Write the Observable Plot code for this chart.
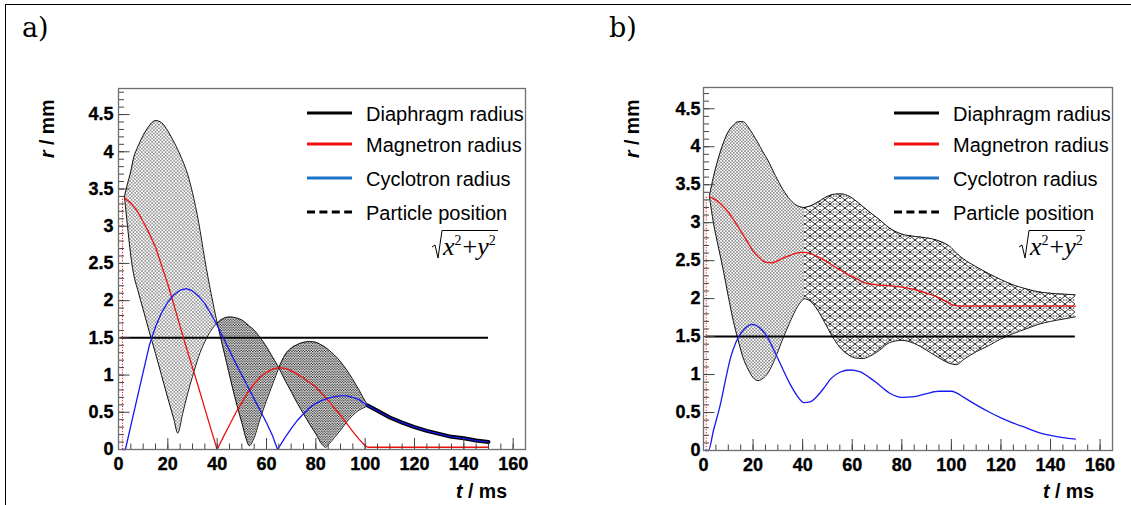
<!DOCTYPE html>
<html>
<head>
<meta charset="utf-8">
<script src="https://cdn.jsdelivr.net/npm/d3@7"></script>
<script src="https://cdn.jsdelivr.net/npm/@observablehq/plot@0.6"></script>
<style>
html,body{margin:0;padding:0;background:#fff;}
#root{position:relative;width:1131px;height:505px;overflow:hidden;background:#fff;}
#root svg{position:absolute;top:0;max-width:none;}
#border{position:absolute;left:5px;top:4px;width:1140px;height:520px;border-top:1.5px solid #000;border-left:1.5px solid #000;pointer-events:none;}
</style>
</head>
<body>
<div id="root"></div>
<script>
// ---------------- data (t in ms, r in mm) ----------------
const panelLabels = ["a)", "b)"];
const legendLabels = ["Diaphragm radius", "Magnetron radius", "Cyclotron radius", "Particle position"];
const xMajorTicks = [0, 20, 40, 60, 80, 100, 120, 140, 160];
const yMajorTicks = [0, 0.5, 1, 1.5, 2, 2.5, 3, 3.5, 4, 4.5];
const diaphragm = {r: 1.5, from: 1, to: 150};

// panel a
const magnetronA = [[2.4,3.38],[5,3.31],[7.5,3.21],[10,3.06],[12.5,2.9],[15,2.72],[17.5,2.47],[20,2.22],[22.5,1.94],[25,1.65],[27.5,1.37],[30,1.1],[32.5,0.83],[35,0.55],[37.5,0.27],[40,0],[42.5,0.17],[45,0.33],[47.5,0.49],[50,0.63],[52.5,0.77],[55,0.88],[57.5,0.97],[60,1.04],[62.5,1.08],[65,1.1],[67.5,1.09],[70,1.06],[72.5,1.01],[75,0.96],[77.5,0.9],[80,0.84],[82.5,0.75],[85,0.66],[87.5,0.56],[90,0.46],[92.5,0.35],[95,0.24],[97.5,0.14],[100,0.05],[101,0.03],[150,0.03]];
const cyclotronA = [[1.5,0],[2.8,0],[5,0.32],[7.5,0.68],[10,1.04],[12.5,1.4],[15,1.65],[17.5,1.84],[20,1.98],[22.5,2.08],[25,2.14],[27.5,2.16],[30,2.13],[32.5,2.06],[35,1.96],[37.5,1.82],[40,1.67],[42.5,1.5],[45,1.33],[47.5,1.16],[50,1.0],[52.5,0.84],[55,0.68],[57.5,0.52],[60,0.36],[62.5,0.18],[64.5,0],[67.5,0.16],[70,0.28],[72.5,0.39],[75,0.48],[77.5,0.56],[80,0.62],[82.5,0.66],[85,0.69],[87.5,0.71],[90,0.72],[92.5,0.72],[95,0.7],[97.5,0.67],[100,0.61],[101,0.59],[105,0.52],[110,0.43],[115,0.36],[120,0.3],[125,0.25],[130,0.21],[135,0.17],[140,0.15],[145,0.12],[150,0.1]];
// particle position envelope: [t, lower, upper]
const particleA1 = [[2.4,3.4,3.4],[3.5,3.05,3.55],[5,2.6,3.74],[6,2.38,3.9],[8,2.12,4.08],[10,1.88,4.22],[12.5,1.58,4.35],[15,1.29,4.42],[17.5,0.99,4.39],[20,0.69,4.28],[22.5,0.4,4.13],[24,0.22,4.03],[26,0.48,3.88],[28,0.75,3.7],[30,0.98,3.45],[32.5,1.25,3.05],[35,1.45,2.55],[37.5,1.6,2.1],[40,1.7,1.7]];
const particleA2 = [[40,1.7,1.7],[42.5,1.35,1.76],[45,1.0,1.78],[47.5,0.66,1.77],[50,0.36,1.74],[52,0.12,1.69],[53,0.05,1.66],[54.5,0.12,1.62],[57.5,0.42,1.5],[60,0.66,1.38],[62.5,0.88,1.24],[65,1.1,1.1]];
const particleA3 = [[65,1.1,1.1],[67.5,0.93,1.27],[70,0.78,1.36],[72.5,0.62,1.41],[75,0.48,1.44],[77.5,0.34,1.45],[80,0.21,1.44],[82.5,0.07,1.4],[84,0.03,1.37],[85.5,0.08,1.33],[87.5,0.16,1.27],[90,0.26,1.18],[92.5,0.37,1.07],[95,0.46,0.94],[97.5,0.53,0.8],[100,0.57,0.65],[101,0.59,0.6]];
const initialA = {t: 1.6, r1: 0, r2: 3.38};

// panel b
const magnetronB = [[2.4,3.34],[5,3.3],[7.5,3.23],[10,3.14],[12.5,3.02],[15,2.89],[17.5,2.76],[20,2.63],[22.5,2.54],[25,2.48],[27.5,2.47],[30,2.5],[32.5,2.54],[35,2.57],[37.5,2.6],[40,2.61],[42.5,2.6],[45,2.57],[47.5,2.53],[50,2.48],[52.5,2.43],[55,2.38],[57.5,2.33],[60,2.29],[62.5,2.25],[65,2.21],[67.5,2.19],[70,2.18],[75,2.17],[80,2.15],[85,2.12],[90,2.07],[95,2.01],[98,1.96],[101,1.91],[104,1.9],[150,1.9]];
const cyclotronB = [[0.8,0],[2,0],[4,0.26],[6.9,0.62],[9,0.95],[10.9,1.22],[13,1.42],[15,1.54],[17.5,1.63],[19.8,1.66],[22.5,1.62],[25.8,1.49],[29,1.28],[32.3,1.05],[35,0.87],[37.8,0.72],[40.5,0.63],[43,0.64],[46,0.72],[48.5,0.82],[51.5,0.95],[55,1.03],[59,1.06],[63,1.04],[67,0.96],[71,0.86],[75.4,0.75],[80,0.7],[85,0.71],[90,0.75],[95,0.78],[100,0.78],[102,0.76],[105,0.7],[110,0.6],[115,0.51],[120,0.43],[125,0.36],[130,0.3],[135,0.24],[140,0.2],[145,0.17],[150,0.15]];
const particleB = [[2.4,3.34,3.36],[4,3.0,3.6],[6,2.68,3.85],[8,2.37,4.05],[10,2.03,4.2],[12,1.71,4.28],[14,1.45,4.33],[16,1.22,4.33],[18,1.07,4.26],[20,0.96,4.16],[22,0.92,4.05],[24,0.95,3.93],[26,1.02,3.82],[29,1.22,3.62],[32,1.47,3.44],[35,1.7,3.3],[38,1.9,3.22],[40.5,2.0,3.2],[43,1.97,3.22],[46,1.85,3.27],[49,1.68,3.33],[52,1.5,3.37],[55,1.36,3.38],[58,1.27,3.36],[61,1.22,3.3],[64,1.21,3.22],[67,1.24,3.14],[71,1.32,3.04],[75,1.42,2.93],[80,1.45,2.85],[85,1.41,2.82],[90,1.32,2.8],[95,1.22,2.76],[100,1.14,2.67],[102,1.13,2.6],[105,1.2,2.52],[110,1.3,2.42],[115,1.38,2.33],[120,1.47,2.25],[125,1.54,2.18],[130,1.6,2.13],[135,1.66,2.09],[140,1.7,2.07],[145,1.73,2.06],[150,1.76,2.05]];
const initialB = {t: 1.1, r1: 0, r2: 3.34};

// ---------------- drawing ----------------
const RED = "#f01010", BLUE = "#1818f0", LEG_BLUE = "#1c74c8";
const FONT = "'Liberation Sans', Arial, Helvetica, sans-serif";
const SERIF = "'Liberation Serif', 'Times New Roman', serif";

function panel(o) {
  const plotW = o.width - o.ml - o.mr, plotH = 505 - o.mt - o.mb;
  const T = d => d[0], R = d => d[1];
  const marks = [];
  for (const seg of o.env) {
    marks.push(Plot.areaY(seg.data, {x: T, y1: d => d[1], y2: d => d[2], fill: `url(#${seg.pat})`, curve: "monotone-x"}));
  }
  for (const seg of o.env) {
    marks.push(Plot.line(seg.data, {x: T, y: d => d[1], stroke: "#000", strokeWidth: 0.9, curve: "monotone-x"}));
    marks.push(Plot.line(seg.data, {x: T, y: d => d[2], stroke: "#000", strokeWidth: 0.9, curve: "monotone-x"}));
  }
  if (o.band != null) {
    marks.push(Plot.line(o.cyc.filter(d => d[0] >= o.band), {x: T, y: R, stroke: "#000", strokeWidth: 4, curve: o.curve}));
  }
  marks.push(Plot.ruleY([diaphragm], {y: d => d.r, x1: d => d.from, x2: d => d.to, stroke: "#000", strokeWidth: 2}));
  marks.push(Plot.ruleX([o.init], {x: d => d.t, y1: d => d.r1, y2: d => d.r2, stroke: RED, strokeWidth: 1, strokeDasharray: "1.2,1.6"}));
  marks.push(Plot.line(o.mag, {x: T, y: R, stroke: RED, strokeWidth: 1.3, curve: o.curve}));
  marks.push(Plot.line(o.cyc, {x: T, y: R, stroke: BLUE, strokeWidth: 1.3, curve: o.curve}));
  // inner ticks (ROOT style)
  const xMinor = d3.range(0, 161, 5);
  const yMinor = d3.range(0, o.ymax - 0.02, 0.1);
  marks.push(Plot.tickX(xMinor, {x: d => d, insetTop: plotH - 5.5, stroke: "#444", strokeWidth: 1}));
  marks.push(Plot.tickX(xMajorTicks, {x: d => d, insetTop: plotH - 11, stroke: "#444", strokeWidth: 1}));
  marks.push(Plot.tickY(yMinor, {y: d => d, insetRight: plotW - 6, stroke: "#444", strokeWidth: 1}));
  marks.push(Plot.tickY(yMajorTicks, {y: d => d, insetRight: plotW - 11.5, stroke: "#444", strokeWidth: 1}));
  // tick labels as bold text marks
  marks.push(Plot.text(xMajorTicks, {x: d => d, y: () => 0, dy: 15, text: d => String(d),
    fontSize: 18, fontWeight: "bold", fontFamily: FONT, fill: "#000", stroke: "#000", strokeWidth: 0.35}));
  marks.push(Plot.text(yMajorTicks, {y: d => d, x: () => 0, dx: -o.ypad, text: d => String(d),
    textAnchor: "end", fontSize: 18, fontWeight: "bold", fontFamily: FONT, fill: "#000", stroke: "#000", strokeWidth: 0.35}));
  marks.push(Plot.frame({stroke: "#6e6e6e", strokeWidth: 1.3}));

  const svg = Plot.plot({
    width: o.width, height: 505,
    marginLeft: o.ml, marginRight: o.mr, marginTop: o.mt, marginBottom: o.mb,
    x: {domain: [0, 165], label: null, axis: null},
    y: {domain: [0, o.ymax], label: null, axis: null},
    style: {fontFamily: FONT, background: "transparent", overflow: "visible", color: "#000"},
    marks
  });
  svg.style.left = o.left + "px";
  svg.style.width = o.width + "px";
  svg.style.height = "505px";

  const s = d3.select(svg);
  const p = o.id;
  s.insert("defs", ":first-child").html(`
    <pattern id="${p}sparse" width="3.4" height="3.4" patternUnits="userSpaceOnUse">
      <circle cx="0.85" cy="0.85" r="0.66" fill="#000"/><circle cx="2.55" cy="2.55" r="0.66" fill="#000"/></pattern>
    <pattern id="${p}dense" width="2.6" height="2.6" patternUnits="userSpaceOnUse">
      <circle cx="0.65" cy="0.65" r="0.7" fill="#000"/><circle cx="1.95" cy="1.95" r="0.7" fill="#000"/></pattern>
    <pattern id="${p}med" width="3.2" height="3.2" patternUnits="userSpaceOnUse">
      <circle cx="0.8" cy="0.8" r="0.66" fill="#000"/><circle cx="2.4" cy="2.4" r="0.66" fill="#000"/></pattern>
    <pattern id="${p}cross" width="10" height="8" patternUnits="userSpaceOnUse">
      <path d="M0,0L10,8M10,0L0,8" stroke="#000" stroke-width="0.85" fill="none"/>
      <circle cx="5" cy="1.6" r="0.6" fill="#000"/><circle cx="5" cy="6.4" r="0.6" fill="#000"/>
      <circle cx="1.6" cy="4" r="0.6" fill="#000"/><circle cx="8.4" cy="4" r="0.6" fill="#000"/>
      <circle cx="5" cy="4" r="0.5" fill="#000"/><circle cx="0" cy="4" r="0.5" fill="#000"/>
      <circle cx="10" cy="4" r="0.5" fill="#000"/></pattern>
  `);

  const fr = o.width - o.mr, fl = o.ml;
  const txt = () => s.append("text").attr("text-anchor", "start").attr("fill", "#000");
  // panel letter
  txt().attr("x", o.letterX).attr("y", 37).attr("font-family", "'DejaVu Serif', " + SERIF)
    .attr("font-size", 27).text(o.letter);
  // axis titles
  const ty = txt().attr("transform", `translate(${fl - 64},158) rotate(-90)`)
    .attr("font-family", FONT).attr("font-size", 19.5).attr("font-weight", "bold");
  ty.append("tspan").attr("font-style", "italic").text("r");
  ty.append("tspan").text(" / mm");
  const tx = txt().attr("x", fr - 18).attr("y", 498).attr("text-anchor", "end")
    .attr("font-family", FONT).attr("font-size", 19.5).attr("font-weight", "bold");
  tx.append("tspan").attr("font-style", "italic").text("t");
  tx.append("tspan").text(" / ms");
  // legend
  const ly = [113, 144, 178, 212];
  const lc = ["#000", RED, LEG_BLUE, "#000"];
  legendLabels.forEach((lab, i) => {
    s.append("line").attr("x1", fr - 218).attr("x2", fr - 173).attr("y1", ly[i]).attr("y2", ly[i])
      .attr("stroke", lc[i]).attr("stroke-width", 2.8)
      .attr("stroke-dasharray", i === 3 ? "8,4.4" : null);
    txt().attr("x", fr - 159).attr("y", ly[i] + 7.5).attr("font-family", FONT)
      .attr("font-size", 20).text(lab);
  });
  const fx = fr - 93;
  s.append("path").attr("d", `M${fx},247L${fx + 3},245L${fx + 6},258L${fx + 10},230.5L${fx + 66},230.5`)
    .attr("stroke", "#000").attr("stroke-width", 1).attr("fill", "none");
  const f = txt().attr("x", fx + 11).attr("y", 255).attr("font-family", SERIF).attr("font-size", 26);
  f.append("tspan").attr("font-style", "italic").text("x");
  f.append("tspan").attr("font-size", 14).attr("dy", -10).text("2");
  f.append("tspan").attr("dy", 10).attr("dx", 1).text("+");
  f.append("tspan").attr("font-style", "italic").text("y");
  f.append("tspan").attr("font-size", 14).attr("dy", -10).text("2");
  return svg;
}

const root = document.getElementById("root");
root.appendChild(panel({
  id: "pa", left: 0, width: 565, ml: 118, mr: 40, mt: 88, mb: 56, ymax: 4.85, ypad: 5,
  letter: panelLabels[0], letterX: 22, curve: "linear", band: 101,
  mag: magnetronA, cyc: cyclotronA, init: initialA,
  env: [{data: particleA1, pat: "pasparse"}, {data: particleA2, pat: "padense"}, {data: particleA3, pat: "padense"}]
}));
root.appendChild(panel({
  id: "pb", left: 565, width: 566, ml: 138, mr: 19, mt: 87, mb: 55, ymax: 4.78, ypad: 3,
  letter: panelLabels[1], letterX: 44, curve: "monotone-x", band: null,
  mag: magnetronB, cyc: cyclotronB, init: initialB,
  env: [{data: particleB.filter(d => d[0] <= 40.5), pat: "pbmed"}, {data: particleB.filter(d => d[0] >= 40.5), pat: "pbcross"}]
}));
const border = document.createElement("div");
border.id = "border";
root.appendChild(border);
</script>
</body>
</html>
